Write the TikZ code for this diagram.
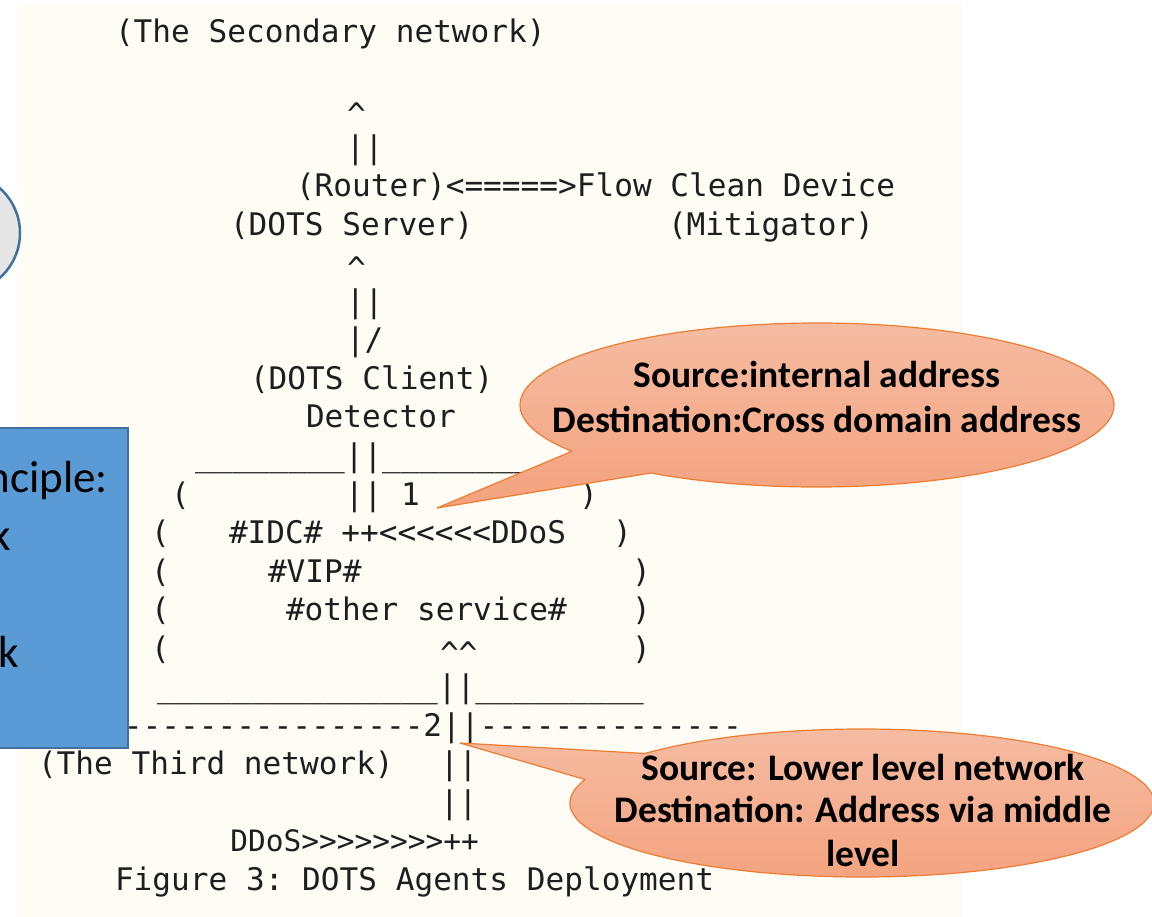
\documentclass[tikz,border=0pt]{standalone}
\usepackage{fontspec}
\setmonofont{DejaVu Sans Mono}
\newfontfamily\notefont{Carlito}

\definecolor{paper}{HTML}{FFFCF5}
\definecolor{ink}{HTML}{1E1E1E}
\definecolor{noteblue}{HTML}{5B9BD5}
\definecolor{noteedge}{HTML}{41719C}
\definecolor{discgray}{HTML}{E7E6E6}
\definecolor{calloutedge}{HTML}{ED7D31}
\definecolor{callouttop}{HTML}{F5BDA4}
\definecolor{calloutbottom}{HTML}{F4A27E}

\tikzset{
  ascii/.style={anchor=base west, inner sep=0pt, outer sep=0pt, text=ink,
    font=\ttfamily\fontsize{31.1}{31.1}\selectfont\frenchspacing},
  bubble/.style={draw=calloutedge, line width=1.2pt, line join=round,
    top color=callouttop, bottom color=calloutbottom},
  bubbletext/.style={anchor=base, inner sep=0pt, text=black,
    font=\notefont\bfseries\fontsize{37.5}{37.5}\selectfont},
  sidetext/.style={anchor=base east, inner sep=0pt, text=black,
    font=\notefont\fontsize{45}{45}\selectfont},
}

\begin{document}
\begin{tikzpicture}[x=1pt,y=-1pt]
\useasboundingbox (0,0) rectangle (1152,917);
\clip (0,0) rectangle (1152,917);

% page background of the figure
\fill[paper] (18,3) rectangle (962,917);

% grey disc at the left margin
\draw[fill=discgray, draw=noteedge, line width=2.5pt] (-40,233) circle (60pt);

% ASCII figure, one node per text run (row pitch 38.5)
\node[ascii] (secnet)  at (115,43)    {(The Secondary network)};
\node[ascii] (upA)     at (347,126)   {\textasciicircum};
\node[ascii] (barA)    at (346,158.5) {||};
\node[ascii] (router)  at (296,197)   {(Router)<=====>Flow Clean Device};
\node[ascii] (server)  at (230,235.5) {(DOTS Server)};
\node[ascii] (mitig)   at (668,235.5) {(Mitigator)};
\node[ascii] (upB)     at (347,280)   {\textasciicircum};
\node[ascii] (barB)    at (346,312.5) {||};
\node[ascii] (barC)    at (346,351)   {|/};
\node[ascii] (client)  at (250,389.5) {(DOTS Client)};
\node[ascii] (detect)  at (306,428)   {Detector};
\node[ascii] (topedge) at (195,466.5) {\_\_\_\_\_\_\_\_||\_\_\_\_\_\_\_\_\_};
\node[ascii] (lpA)     at (171,505)   {(};
\node[ascii] (linkA)   at (345,505)   {|| 1};
\node[ascii] (rpA)     at (579,505)   {)};
\node[ascii] (lpB)     at (151,543.5) {(};
\node[ascii] (idc)     at (229,543.5) {\#IDC\# ++<<<<<<DDoS};
\node[ascii] (rpB)     at (613,543.5) {)};
\node[ascii] (lpC)     at (151,582)   {(};
\node[ascii] (vip)     at (268,582)   {\#VIP\#};
\node[ascii] (rpC)     at (632,582)   {)};
\node[ascii] (lpD)     at (151,620.5) {(};
\node[ascii] (other)   at (286,620.5) {\#other service\#};
\node[ascii] (rpD)     at (632,620.5) {)};
\node[ascii] (lpE)     at (151,659)   {(};
\node[ascii] (upC)     at (440,664)   {\textasciicircum\textasciicircum};
\node[ascii] (rpE)     at (632,659)   {)};
\node[ascii] (botedge) at (157,697.5) {\_\_\_\_\_\_\_\_\_\_\_\_\_\_\_||\_\_\_\_\_\_\_\_\_};
\node[ascii] (border)  at (11.6,736)  {----------------------2||--------------};
\node[ascii] (thirdnet) at (38,774.5) {(The Third network)};
\node[ascii] (barD)    at (440,774.5) {||};
\node[ascii] (barE)    at (440,813)   {||};
\node[ascii, anchor=base east, font=\ttfamily\fontsize{29.5}{29.5}\selectfont]
                 (ddos)    at (479,851.5) {DDoS>>>>>>>>++};
\node[ascii] (caption) at (115,890)   {Figure 3: DOTS Agents Deployment};

% blue note box running off the left edge
\node[draw=noteedge, fill=noteblue, line width=2pt, inner sep=0pt,
      minimum width=258pt, minimum height=320pt] (principle) at (-1,588) {};
\node[sidetext] (ruleA) at (108,492) {Principle:};
\node[sidetext] (ruleB) at (11,550)  {k};
\node[sidetext] (ruleC) at (19,667)  {k};

% callout bubbles: ellipse with a wedge towards the pointed-at spot
\coordinate (noteA) at (817,405);
\coordinate (tipA)  at (437,508);
\draw[bubble] (tipA) -- ([shift={(236:297pt and 82pt)}]noteA)
  arc[start angle=236, end angle=574.4, x radius=297pt, y radius=82pt] -- cycle;
\node[bubbletext] (noteAa) at (817,388) {Source:internal address};
\node[bubbletext] (noteAb) at (817,432) {Destination:Cross domain address};

\coordinate (noteB) at (862,803);
\coordinate (tipB)  at (460,743);
\draw[bubble] (tipB) -- ([shift={(161.5:292pt and 74pt)}]noteB)
  arc[start angle=161.5, end angle=498, x radius=292pt, y radius=74pt] -- cycle;
\node[bubbletext] (noteBa) at (863,780) {Source: Lower level network};
\node[bubbletext] (noteBb) at (863,822) {Destination: Address via middle};
\node[bubbletext] (noteBc) at (863,866) {level};
\end{tikzpicture}
\end{document}
